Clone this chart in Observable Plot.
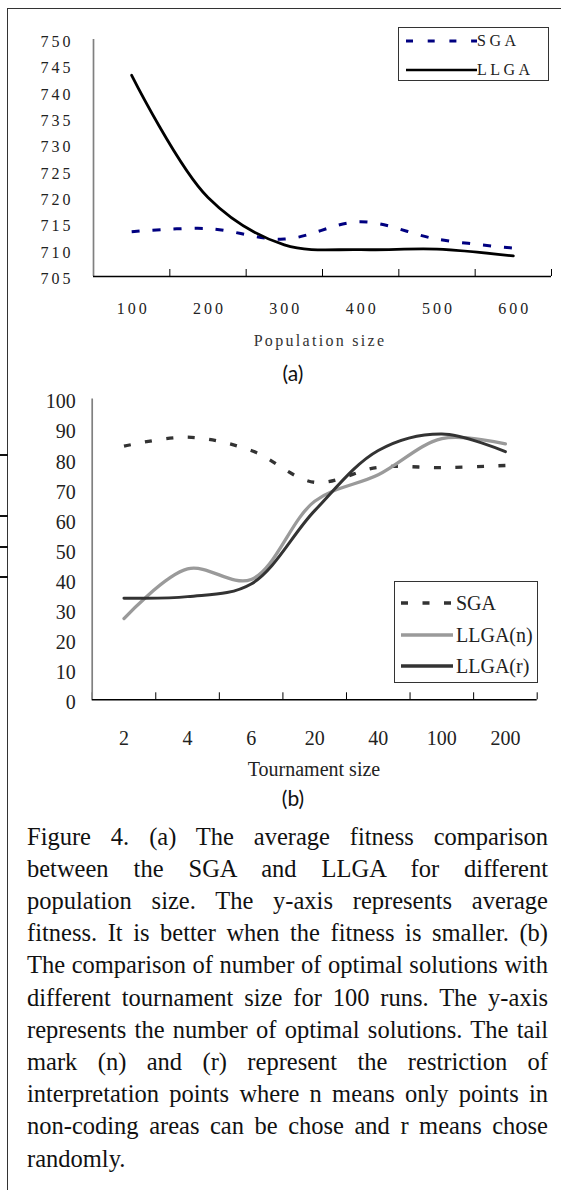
<!DOCTYPE html>
<html><head><meta charset="utf-8">
<script src="https://cdn.jsdelivr.net/npm/d3@7"></script>
<script src="https://cdn.jsdelivr.net/npm/@observablehq/plot@0.6"></script>
<style>
html,body{margin:0;padding:0;background:#fff;}
#page{position:relative;width:561px;height:1190px;overflow:hidden;background:#fff;}
.abs{position:absolute;}
#chartA, #chartB{position:absolute;left:0;}
#chartA{top:0;}
#chartB{top:380px;}
#chartA text{letter-spacing:3px;}
.serif{font-family:'Liberation Serif','Times New Roman',serif;color:#222;}
.cap{position:absolute;left:27px;width:521px;font-family:'Liberation Serif','Times New Roman',serif;font-size:24.5px;line-height:32px;height:32px;color:#111;white-space:nowrap;text-align:justify;text-align-last:justify;}
.cap.last{text-align:left;text-align-last:left;}
.legend{position:absolute;border:1px solid #333;background:#fff;box-sizing:border-box;}
</style></head><body><div id="page"></div>
<script>
// ---------- data (a) ----------
const popSizes = [100, 200, 300, 400, 500, 600];
const sgaFitness = [713.5, 714.1, 712.1, 715.4, 712.1, 710.4];
const llgaFitness = [743.2, 720.0, 711.0, 710.1, 710.2, 708.9];
const fitnessTicks = [705, 710, 715, 720, 725, 730, 735, 740, 745, 750];

// ---------- data (b) ----------
const tournamentSizes = ["2", "4", "6", "20", "40", "100", "200"];
const sgaOptimal = [84.3, 87.3, 82.9, 72.3, 77.3, 77.2, 77.9];
const llgaNOptimal = [27.0, 43.5, 40.0, 66.0, 74.8, 86.8, 85.1];
const llgaROptimal = [33.8, 34.3, 38.5, 62.9, 82.9, 88.4, 82.5];
const optimalTicks = [0, 10, 20, 30, 40, 50, 60, 70, 80, 90, 100];

const captionLines = [
  "Figure 4. (a) The average fitness comparison",
  "between the SGA and LLGA for different",
  "population size. The y-axis represents average",
  "fitness. It is better when the fitness is smaller. (b)",
  "The comparison of number of optimal solutions with",
  "different tournament size for 100 runs. The y-axis",
  "represents the number of optimal solutions. The tail",
  "mark (n) and (r) represent the restriction of",
  "interpretation points where n means only points in",
  "non-coding areas can be chose and r means chose",
  "randomly."
];

const page = document.getElementById("page");
function el(tag, cls, style, text) {
  const e = document.createElement(tag);
  if (cls) e.className = cls;
  if (style) e.setAttribute("style", style);
  if (text != null) e.textContent = text;
  page.appendChild(e);
  return e;
}

// ---------- chart (a) ----------
const rowsA = (vals) => popSizes.map((p, i) => ({x: i + 0.5, y: vals[i], p}));
const chartA = Plot.plot({
  width: 561, height: 330,
  marginTop: 39, marginBottom: 54, marginLeft: 93, marginRight: 10,
  x: {type: "linear", domain: [0, popSizes.length], axis: null},
  y: {domain: [705, 750], axis: null},
  style: {background: "transparent", fontFamily: "'Liberation Serif', serif", fontSize: "16px", color: "#222"},
  marks: [
    Plot.axisY(fitnessTicks, {label: null, tickSize: 0, tickPadding: 20, dy: 2.5, fontSize: 16, fill: "#222"}),
    Plot.axisX(d3.range(popSizes.length).map(i => i + 0.5), {
      label: null, tickSize: 0, tickPadding: 26, dx: 1.5, fontSize: 16, fill: "#222",
      tickFormat: d => popSizes[Math.round(d - 0.5)]
    }),
    Plot.axisX(d3.range(popSizes.length + 1), {label: null, tickSize: -7, tickFormat: () => "", stroke: "#000"}),
    Plot.ruleX([0], {stroke: "#808080", strokeWidth: 1.7}),
    Plot.ruleY([705], {stroke: "#000", strokeWidth: 1.4}),
    Plot.line(rowsA(sgaFitness), {x: "x", y: "y", curve: "catmull-rom", stroke: "#000080",
      strokeWidth: 3, strokeDasharray: "8,13", strokeLinecap: "butt"}),
    Plot.line(rowsA(llgaFitness), {x: "x", y: "y", curve: "catmull-rom", stroke: "#000",
      strokeWidth: 2.8})
  ]
});
const divA = document.createElement("div"); divA.id = "chartA"; divA.appendChild(chartA); page.appendChild(divA);

// ---------- chart (b) ----------
const rowsB = (vals) => tournamentSizes.map((t, i) => ({x: i + 0.5, y: vals[i], t}));
const chartB = Plot.plot({
  width: 561, height: 380,
  marginTop: 18.5, marginBottom: 60.7, marginLeft: 91.7, marginRight: 24.3,
  x: {type: "linear", domain: [0, tournamentSizes.length], axis: null},
  y: {domain: [0, 100], axis: null},
  style: {background: "transparent", fontFamily: "'Liberation Serif', serif", fontSize: "20px", color: "#222"},
  marks: [
    Plot.axisY(optimalTicks, {label: null, tickSize: 0, tickPadding: 16.5, dy: 3, fontSize: 20, fill: "#222"}),
    Plot.axisX(d3.range(tournamentSizes.length).map(i => i + 0.5), {
      label: null, tickSize: 0, tickPadding: 31, fontSize: 20, fill: "#222",
      tickFormat: d => tournamentSizes[Math.round(d - 0.5)]
    }),
    Plot.axisX(d3.range(tournamentSizes.length + 1), {label: null, tickSize: -7, tickFormat: () => "", stroke: "#000"}),
    Plot.ruleX([0], {stroke: "#808080", strokeWidth: 1.7}),
    Plot.ruleY([0], {stroke: "#000", strokeWidth: 1.5}),
    Plot.line(rowsB(sgaOptimal), {x: "x", y: "y", curve: "catmull-rom", stroke: "#333",
      strokeWidth: 3.3, strokeDasharray: "7,14.5", strokeLinecap: "butt"}),
    Plot.line(rowsB(llgaNOptimal), {x: "x", y: "y", curve: "catmull-rom", stroke: "#9a9a9a",
      strokeWidth: 3.3}),
    Plot.line(rowsB(llgaROptimal), {x: "x", y: "y", curve: "catmull-rom", stroke: "#333",
      strokeWidth: 3})
  ]
});
const divB = document.createElement("div"); divB.id = "chartB"; divB.appendChild(chartB); page.appendChild(divB);

// ---------- axis titles and panel labels ----------
el("div", "abs serif", "left:220px;width:200px;top:330px;text-align:center;font-size:16px;letter-spacing:2.3px;line-height:22px;color:#333;", "Population size");
el("div", "abs", "left:243px;width:100px;top:359px;text-align:center;font-family:Lato,'Open Sans',sans-serif;font-size:21px;line-height:28px;color:#111;", "(a)");
el("div", "abs serif", "left:214px;width:200px;top:756px;text-align:center;font-size:20px;line-height:26px;color:#222;", "Tournament size");
el("div", "abs", "left:243px;width:100px;top:784px;text-align:center;font-family:Lato,'Open Sans',sans-serif;font-size:21px;line-height:28px;color:#111;", "(b)");

// ---------- legends ----------
function legend(left, top, w, h, items, font) {
  const box = el("div", "legend", `left:${left}px;top:${top}px;width:${w}px;height:${h}px;`);
  items.forEach(it => {
    const svgNS = "http://www.w3.org/2000/svg";
    const s = document.createElementNS(svgNS, "svg");
    s.setAttribute("width", it.x2 - it.x1 + 2);
    s.setAttribute("height", 8);
    s.setAttribute("style", `position:absolute;left:${it.x1 - left - 1}px;top:${it.y - top - 4 - 1}px;overflow:visible`);
    const ln = document.createElementNS(svgNS, "line");
    ln.setAttribute("x1", 1); ln.setAttribute("x2", it.x2 - it.x1 + 1);
    ln.setAttribute("y1", 4); ln.setAttribute("y2", 4);
    ln.setAttribute("stroke", it.stroke); ln.setAttribute("stroke-width", it.width);
    if (it.dash) ln.setAttribute("stroke-dasharray", it.dash);
    s.appendChild(ln);
    box.appendChild(s);
    const t = document.createElement("div");
    t.textContent = it.label;
    t.setAttribute("style", `position:absolute;left:${it.tx - left - 1}px;top:${it.y - top - 1 - font.lh / 2}px;line-height:${font.lh}px;font-family:'Liberation Serif',serif;font-size:${font.size}px;letter-spacing:${font.ls}px;color:#222;white-space:nowrap;`);
    box.appendChild(t);
  });
}
legend(397.5, 26.7, 151, 54, [
  {label: "SGA", x1: 405, x2: 476, y: 40.7, stroke: "#000080", width: 3, dash: "7,14.7", tx: 477},
  {label: "LLGA", x1: 405, x2: 476, y: 70, stroke: "#000", width: 2.6, tx: 477}
], {size: 16, ls: 3.5, lh: 20});
legend(393.5, 580.7, 144, 102, [
  {label: "SGA", x1: 400, x2: 452, y: 602.7, stroke: "#333", width: 3.3, dash: "7,14.5", tx: 456},
  {label: "LLGA(n)", x1: 400, x2: 452, y: 635, stroke: "#9a9a9a", width: 3.3, tx: 456},
  {label: "LLGA(r)", x1: 400, x2: 452, y: 666, stroke: "#333", width: 3.3, tx: 456}
], {size: 20, ls: 0, lh: 24});

// ---------- caption ----------
captionLines.forEach((line, i) => {
  el("div", "cap" + (i === captionLines.length - 1 ? " last" : ""), `top:${820.5 + i * 32.2}px;`, line);
});

// ---------- page frame (scan border) ----------
el("div", "abs", "left:7px;top:8px;width:560px;height:1200px;border-left:1.5px solid #333;border-top:1.5px solid #333;");
[455, 516, 547, 577].forEach(y => el("div", "abs", `left:0;top:${y - 0.75}px;width:8px;height:1.5px;background:#111;`));
</script></body></html>
